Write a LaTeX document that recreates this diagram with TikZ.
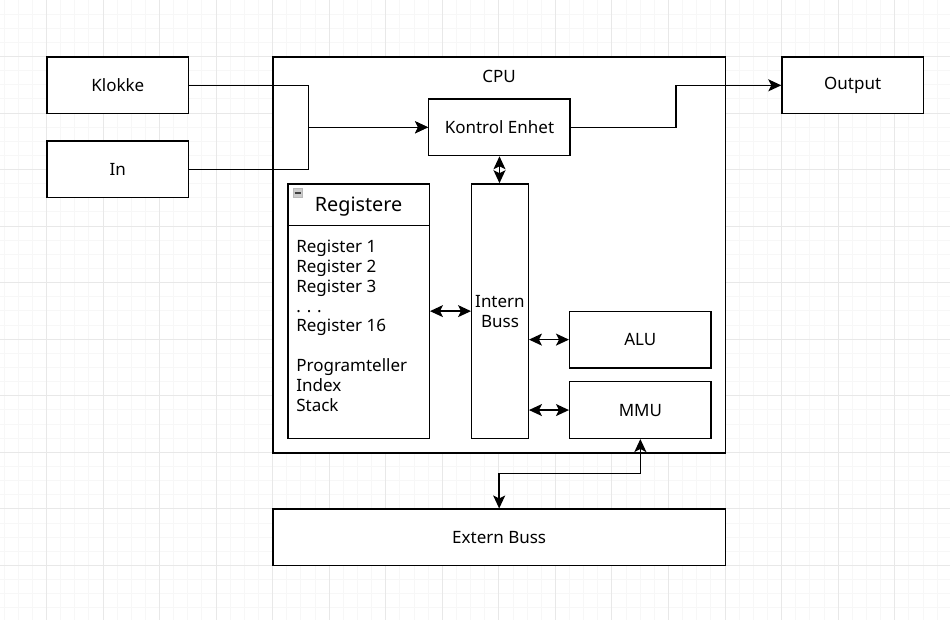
\documentclass[tikz,border=0pt]{standalone}
\usepackage{fontspec}
\setmainfont{Noto Sans}
\usetikzlibrary{arrows.meta,positioning,calc}

\begin{document}
\begin{tikzpicture}[
  x=1pt, y=-1pt,
  blk/.style={draw, line width=1.4pt, fill=white, minimum width=141.5pt, minimum height=56.6pt,
              inner sep=0pt, align=center, font=\fontsize{17}{19.9}\selectfont},
  txt/.style={inner sep=0pt, font=\fontsize{17}{19.9}\selectfont},
  minorgrid/.style={line width=0.8pt, gray!6},
  majorgrid/.style={line width=0.8pt, gray!18},
  arr/.style={-{Stealth[length=13pt, width=12pt, inset=3pt]}, line width=1.4pt},
  dbl/.style={{Stealth[length=13pt, width=12pt, inset=3pt]}-{Stealth[length=13pt, width=12pt, inset=3pt]}, line width=1.4pt}
]

% canvas + grid
\fill[white] (0,0) rectangle (950,620);
\foreach \i in {0,...,66} \draw[minorgrid] ({3.55+\i*14.15},0) -- ({3.55+\i*14.15},620);
\foreach \j in {1,...,43} \draw[minorgrid] (0,{-0.6+\j*14.15}) -- (950,{-0.6+\j*14.15});
\foreach \i in {0,...,15} \draw[majorgrid] ({46+\i*56.6},0) -- ({46+\i*56.6},620);
\foreach \j in {0,...,9} \draw[majorgrid] (0,{56+\j*56.6}) -- (950,{56+\j*56.6});
\useasboundingbox (0,0) rectangle (950,620);

% inputs and output
\node[blk] (klokke) at (117.5,85) {Klokke};
\node[blk] (in) at (117.5,169) {In};
\node[blk] (output) at (853,85) {Output};

% CPU
\node[blk, minimum width=452.8pt, minimum height=396pt] (cpu) at (499.2,254.8) {};
\node[txt] (cpulbl) at ($(cpu.north)+(0,20)$) {CPU};
\node[blk] (kontrol) at (499.5,127) {Kontrol Enhet};

% registers
\node[blk, minimum height=254.7pt] (reg) at (358.5,311) {};
\draw[line width=1.4pt] ([yshift=-42.5pt]reg.north west) -- ([yshift=-42.5pt]reg.north east);
\node[inner sep=0pt, font=\fontsize{19.8}{22}\selectfont] (reghead) at (358.5,206) {Registere};
\node[draw=gray!55, fill=gray!40, line width=0.6pt, minimum size=9.5pt, inner sep=0pt] (collapse) at (297.5,192.5) {};
\draw[line width=1.6pt, black!75] ([xshift=2pt]collapse.west) -- ([xshift=-2pt]collapse.east);
\node[txt, anchor=north west, align=left] (reglist) at (296,239.5)
  {Register 1\\Register 2\\Register 3\\. . .\\Register 16\\[19.9pt]Programteller\\Index\\Stack};

\node[blk, minimum width=56.6pt, minimum height=254.7pt] (intern) at (500,311) {Intern\\Buss};
\node[blk] (alu) at (640.5,339.5) {ALU};
\node[blk] (mmu) at (640.5,410) {MMU};

% external bus
\node[blk, minimum width=452.8pt] (extern) at (499.2,537.5) {Extern Buss};

% connectors
\draw[arr] (klokke.east) -| ($(klokke.east)!.5!(kontrol.west)$) |- (kontrol.west);
\draw[arr] (in.east) -| ($(in.east)!.5!(kontrol.west)$) |- (kontrol.west);
\draw[arr] (kontrol.east) -| ($(kontrol.east)!.5!(output.west)$) |- (output.west);
\draw[dbl] (kontrol.south) -- (kontrol.south |- intern.north);
\draw[dbl] (reg.east) -- (reg.east -| intern.west);
\draw[dbl] (intern.east |- alu.west) -- (alu.west);
\draw[dbl] (intern.east |- mmu.west) -- (mmu.west);
\draw[dbl] (mmu.south) |- ($(mmu.south)!.5!(extern.north)$) -| (extern.north);

\end{tikzpicture}
\end{document}
